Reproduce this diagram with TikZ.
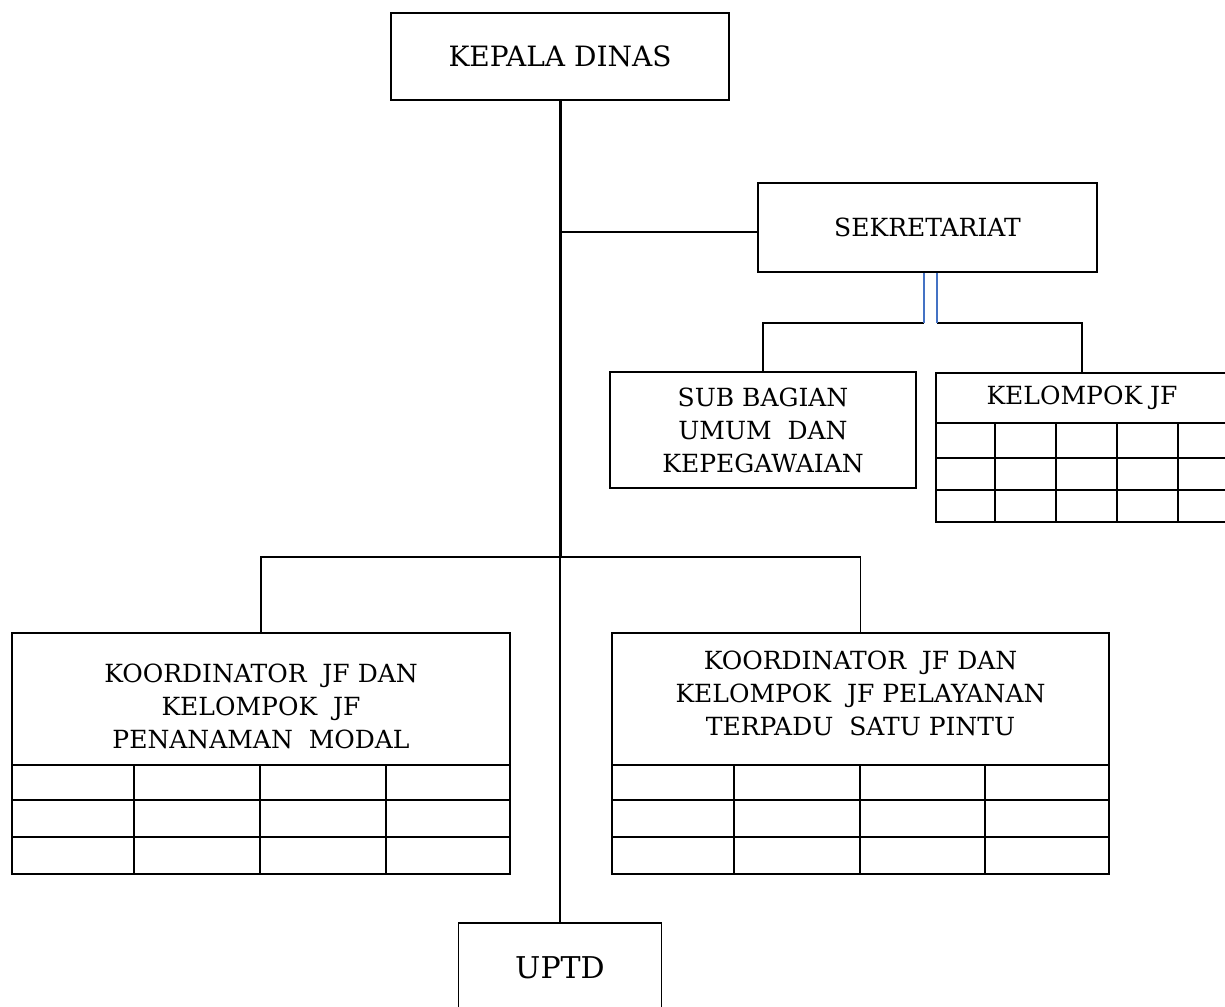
\documentclass[tikz,border=0pt]{standalone}
\usepackage{fontspec}
\setmainfont{DejaVu Serif}
\definecolor{sekblue}{RGB}{68,114,196}

\begin{document}
\begin{tikzpicture}[x=1pt,y=-1pt]

\tikzset{box/.style={draw, line width=1.5pt, inner sep=0pt, align=center, font=\fontsize{25}{33}\selectfont},
  txt/.style={inner sep=0pt, align=center, font=\fontsize{25}{33}\selectfont},
  cell/.style={line width=1.5pt},
  link/.style={line width=1.4pt},
  trunk/.style={line width=3pt},
  sekline/.style={line width=1.6pt, color=sekblue}}

\useasboundingbox (0,0) rectangle (1225,1006);

\node[box, minimum width=338pt, minimum height=87pt, font=\fontsize{28}{32}\selectfont] (KD) at (560,56.5) {KEPALA DINAS};
\node[box, minimum width=339pt, minimum height=89pt] (SEK) at (927.5,227.5) {SEKRETARIAT};
\node[box, minimum width=306pt, minimum height=116pt] (SUB) at (763,430) {SUB BAGIAN\\UMUM\ \ DAN\\KEPEGAWAIAN};
\node[box, minimum width=292pt, minimum height=50pt] (KJF) at (1082,398) {KELOMPOK JF};
\node[box, minimum width=498pt, minimum height=132pt] (PM) at (261,699) {};
\node[box, minimum width=497pt, minimum height=132pt] (PTSP) at (860.5,699) {};
\node[box, minimum width=203pt, minimum height=120pt] (UPTD) at (560,983) {};

\node[txt] (PM_text) at (261,706) {KOORDINATOR\ \ JF DAN\\KELOMPOK\ \ JF\\PENANAMAN\ \ MODAL};
\node[txt] (PTSP_text) at (860.5,693.5) {KOORDINATOR\ \ JF DAN\\KELOMPOK\ \ JF PELAYANAN\\TERPADU\ \ SATU PINTU};
\node[txt, font=\fontsize{30}{36}\selectfont] (UPTD_text) at (560,968) {UPTD};

\draw[cell] (936,423) rectangle (1228,522);
\draw[cell] (936,458) -- (1228,458);
\draw[cell] (936,490) -- (1228,490);
\draw[cell] (995,423) -- (995,522);
\draw[cell] (1056,423) -- (1056,522);
\draw[cell] (1117,423) -- (1117,522);
\draw[cell] (1178,423) -- (1178,522);

\draw[cell] (12,765) rectangle (510,874);
\draw[cell] (12,800) -- (510,800);
\draw[cell] (12,837) -- (510,837);
\draw[cell] (134,765) -- (134,874);
\draw[cell] (260,765) -- (260,874);
\draw[cell] (386,765) -- (386,874);

\draw[cell] (612,765) rectangle (1109,874);
\draw[cell] (612,800) -- (1109,800);
\draw[cell] (612,837) -- (1109,837);
\draw[cell] (734,765) -- (734,874);
\draw[cell] (860,765) -- (860,874);
\draw[cell] (985,765) -- (985,874);

\coordinate (J1) at (560,232);
\coordinate (J2) at (560,557);
\coordinate (B1) at (924,323);
\coordinate (B2) at (937,323);

\draw[trunk] (KD.south) -- (J2);
\draw[link] (J2) -- (UPTD.north);
\draw[link] (J1) -- (J1 -| SEK.west);
\draw[link] (PM.north) |- (J2) -| (PTSP.north);
\draw[link] (B1) -| (SUB.north);
\draw[link] (B2) -| (KJF.north);
\draw[sekline] (SEK.south -| B1) -- (B1);
\draw[sekline] (SEK.south -| B2) -- (B2);

\end{tikzpicture}
\end{document}
